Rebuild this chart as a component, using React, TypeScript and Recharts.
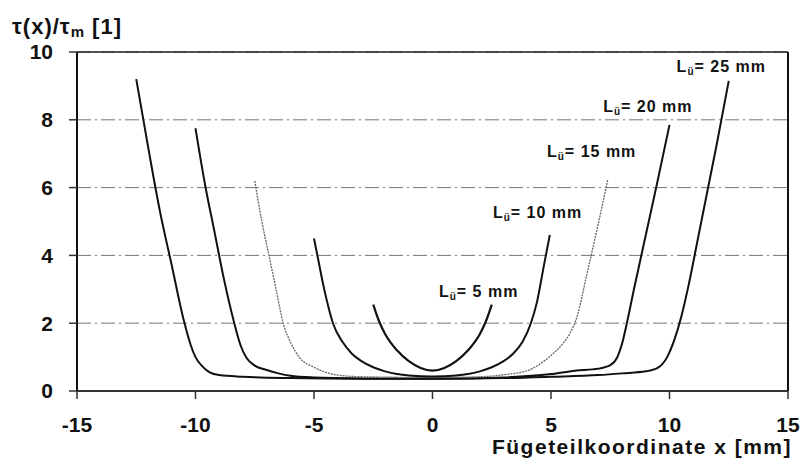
import { LineChart, Line, XAxis, YAxis, CartesianGrid, ReferenceLine, ReferenceDot } from 'recharts';

// L_ü = 25 mm
const x25 = [-12.5, -12, -11.5, -11, -10.5, -10.2, -10, -9.7, -9.4, -9, -8, -6, -3, 0, 3, 5, 7, 8, 9, 9.5, 9.9, 10.2, 10.5, 10.8, 11.2, 11.6, 12, 12.5];
const y25 = [9.2, 7.2, 5.3, 3.7, 2.1, 1.35, 1.0, 0.72, 0.55, 0.47, 0.42, 0.38, 0.36, 0.36, 0.38, 0.42, 0.47, 0.52, 0.58, 0.68, 1.0, 1.5, 2.2, 3.1, 4.5, 5.9, 7.3, 9.15];

// L_ü = 20 mm
const x20 = [-10, -9.6, -9.2, -8.8, -8.4, -8.1, -7.85, -7.5, -7, -6.5, -6, -5, -3, 0, 3, 5, 6, 7, 7.5, 7.8, 8.0, 8.2, 8.5, 9, 9.5, 10];
const y20 = [7.75, 6.1, 4.7, 3.3, 2.1, 1.35, 0.98, 0.75, 0.62, 0.52, 0.45, 0.4, 0.37, 0.36, 0.4, 0.5, 0.6, 0.66, 0.76, 1.0, 1.4, 2.0, 3.0, 4.6, 6.2, 7.85];

// L_ü = 15 mm
const x15 = [-7.5, -7.2, -6.9, -6.6, -6.3, -6, -5.6, -5, -4.5, -4, -3, 0, 2, 3, 4, 4.5, 5, 5.5, 5.8, 6.1, 6.5, 7, 7.4];
const y15 = [6.2, 5.0, 4.0, 3.0, 2.0, 1.45, 0.98, 0.7, 0.55, 0.47, 0.42, 0.4, 0.42, 0.48, 0.6, 0.78, 1.05, 1.4, 1.7, 2.2, 3.4, 4.95, 6.25];

// L_ü = 10 mm
const x10 = [-5, -4.8, -4.6, -4.4, -4.2, -3.8, -3.4, -3, -2.5, -2, -1.5, -1, 0, 1, 1.5, 2, 2.5, 3, 3.4, 3.8, 4.15, 4.4, 4.7, 4.95];
const y10 = [4.5, 3.8, 3.1, 2.5, 2.0, 1.45, 1.1, 0.88, 0.7, 0.58, 0.5, 0.46, 0.43, 0.46, 0.5, 0.58, 0.7, 0.88, 1.1, 1.45, 2.0, 2.6, 3.7, 4.6];

// L_ü = 5 mm
const x5 = [-2.5, -2.25, -2, -1.5, -1, -0.5, 0, 0.5, 1, 1.5, 2, 2.25, 2.5];
const y5 = [2.55, 2.05, 1.68, 1.2, 0.88, 0.68, 0.6, 0.68, 0.88, 1.2, 1.68, 2.05, 2.55];

const xTicks = [-15, -10, -5, 0, 5, 10, 15];
const yTicks = [0, 2, 4, 6, 8, 10];

const zip = (xs: number[], ys: number[]) => xs.map((x, i) => ({ x, y: ys[i] }));

const FONT = '"Liberation Sans", Arial, sans-serif';

const curveLabel = (n: string) => (props: any) => {
  const vb = props.viewBox || {};
  const x = vb.x ?? 0;
  const y = vb.y ?? 0;
  return (
    <text x={x} y={y} fontFamily={FONT} fontWeight="bold" fontSize={16} fill="#111" letterSpacing={1}>
      <tspan>L</tspan>
      <tspan fontSize={10} dy={3}>ü</tspan>
      <tspan dy={-3}>= {n} mm</tspan>
    </text>
  );
};

export default function App() {
  return (
    <div style={{ position: 'absolute', left: 0, top: 0, width: 805, height: 475, background: '#fff', fontFamily: FONT }}>
      <div style={{ position: 'absolute', left: 12, top: 13, fontSize: 22, fontWeight: 'bold', color: '#111', lineHeight: '28px', letterSpacing: 1 }}>
        τ(x)/τ<sub style={{ fontSize: 15, verticalAlign: '-3px' }}>m</sub> [1]
      </div>
      <div style={{ position: 'absolute', right: 13, top: 434, fontSize: 21, fontWeight: 'bold', color: '#111', lineHeight: '26px', letterSpacing: 1.5 }}>
        Fügeteilkoordinate x [mm]
      </div>
      <LineChart width={805} height={475} margin={{ top: 52, right: 17, left: 0, bottom: 0 }}>
        <CartesianGrid vertical={false} stroke="#777" strokeWidth={1} strokeDasharray="14 4 2 4" />
        <XAxis
          type="number"
          dataKey="x"
          domain={[-15, 15]}
          ticks={xTicks}
          allowDataOverflow
          height={84}
          tickSize={8}
          tickMargin={18}
          axisLine={{ stroke: '#333', strokeWidth: 2 }}
          tickLine={{ stroke: '#333', strokeWidth: 1.5 }}
          tick={{ fontSize: 21, fontWeight: 'bold', fill: '#111', fontFamily: FONT }}
        />
        <YAxis
          type="number"
          dataKey="y"
          domain={[0, 10]}
          ticks={yTicks}
          width={77}
          tickSize={8}
          tickMargin={16}
          axisLine={{ stroke: '#111', strokeWidth: 2 }}
          tickLine={{ stroke: '#333', strokeWidth: 1.5 }}
          tick={{ fontSize: 21, fontWeight: 'bold', fill: '#111', fontFamily: FONT }}
        />
        <ReferenceLine y={10} stroke="#222" strokeWidth={1.5} />
        <ReferenceLine x={15} stroke="#111" strokeWidth={2} />
        <Line data={zip(x25, y25)} dataKey="y" type="monotone" stroke="#111" strokeWidth={2} dot={false} isAnimationActive={false} />
        <Line data={zip(x20, y20)} dataKey="y" type="monotone" stroke="#111" strokeWidth={2} dot={false} isAnimationActive={false} />
        <Line data={zip(x15, y15)} dataKey="y" type="monotone" stroke="#666" strokeWidth={1.3} strokeDasharray="2 1" dot={false} isAnimationActive={false} />
        <Line data={zip(x10, y10)} dataKey="y" type="monotone" stroke="#111" strokeWidth={2} dot={false} isAnimationActive={false} />
        <Line data={zip(x5, y5)} dataKey="y" type="monotone" stroke="#111" strokeWidth={2.2} dot={false} isAnimationActive={false} />
        <ReferenceDot x={10.3} y={9.41} r={0.01} fill="none" stroke="none" ifOverflow="visible" label={curveLabel('25')} />
        <ReferenceDot x={7.2} y={8.23} r={0.01} fill="none" stroke="none" ifOverflow="visible" label={curveLabel('20')} />
        <ReferenceDot x={4.83} y={6.9} r={0.01} fill="none" stroke="none" ifOverflow="visible" label={curveLabel('15')} />
        <ReferenceDot x={2.55} y={5.1} r={0.01} fill="none" stroke="none" ifOverflow="visible" label={curveLabel('10')} />
        <ReferenceDot x={0.27} y={2.77} r={0.01} fill="none" stroke="none" ifOverflow="visible" label={curveLabel('5')} />
      </LineChart>
    </div>
  );
}
